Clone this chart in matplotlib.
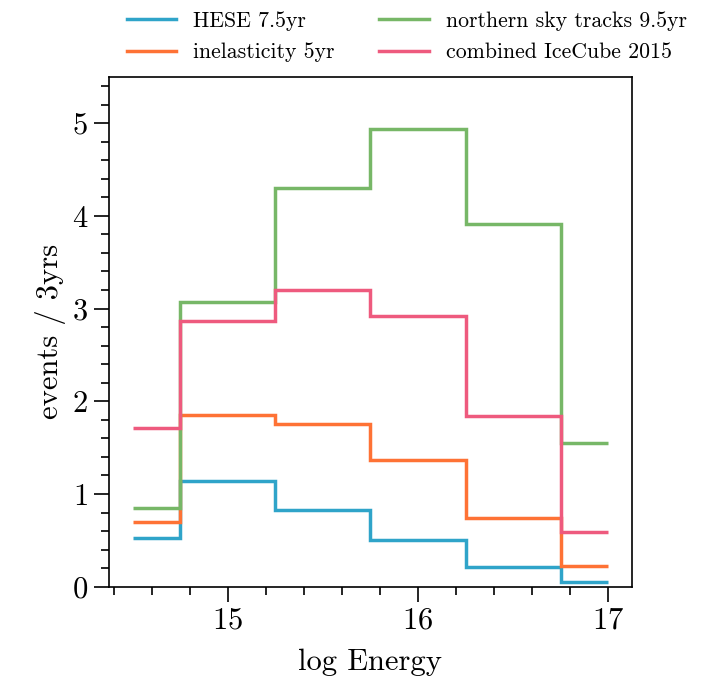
import matplotlib
matplotlib.use("Agg")
import matplotlib.pyplot as plt
from matplotlib.ticker import MultipleLocator
from matplotlib.lines import Line2D

plt.rcParams['font.family'] = 'serif'
plt.rcParams['font.serif'] = ['cmr10', 'DejaVu Serif']
plt.rcParams['mathtext.fontset'] = 'cm'
plt.rcParams['axes.formatter.use_mathtext'] = True

edges = [14.5, 14.75, 15.25, 15.75, 16.25, 16.75, 17.0]
labels = ["HESE 7.5yr", "inelasticity 5yr", "northern sky tracks 9.5yr", "combined IceCube 2015"]
hese = [0.52, 1.14, 0.83, 0.50, 0.21, 0.05]
inelasticity = [0.70, 1.85, 1.76, 1.37, 0.74, 0.22]
northern = [0.85, 3.07, 4.30, 4.94, 3.91, 1.55]
combined = [1.71, 2.87, 3.20, 2.92, 1.84, 0.59]
colors = ["#2fa4c9", "#fe7235", "#77b767", "#ee5a7e"]

fig = plt.figure(figsize=(7.05, 6.76), dpi=100)
ax = fig.add_axes([0.1546, 0.1321, 0.7418, 0.7544])

for vals, c, lab in zip([hese, inelasticity, northern, combined], colors, labels):
    ax.stairs(vals, edges, baseline=None, color=c, linewidth=2.5, label=lab)

ax.set_xlim(14.375, 17.125)
ax.set_ylim(0, 5.5)
ax.xaxis.set_major_locator(MultipleLocator(1))
ax.xaxis.set_minor_locator(MultipleLocator(0.2))
ax.yaxis.set_major_locator(MultipleLocator(1))
ax.yaxis.set_minor_locator(MultipleLocator(0.2))
ax.tick_params(which='both', direction='out', top=False, right=False, width=1.2)
ax.tick_params(which='major', length=10.5, labelsize=22, pad=4.5)
ax.tick_params(which='minor', length=5.5)
for s in ax.spines.values():
    s.set_linewidth(1.2)

ax.set_xlabel("log Energy", fontsize=22, labelpad=10)
ax.set_ylabel("events / 3yrs", fontsize=22, labelpad=4)

lh = [Line2D([], [], color=c, linewidth=2.5) for c in colors]
fig.legend(lh, labels, loc='upper left', bbox_to_anchor=(127/705, 1 - 11/676),
           ncol=2, frameon=False, fontsize=15.7, handlelength=2.25, handletextpad=0.78,
           columnspacing=2.06, labelspacing=0.55, borderpad=0, borderaxespad=0)

fig.savefig("out.png", dpi=100)
